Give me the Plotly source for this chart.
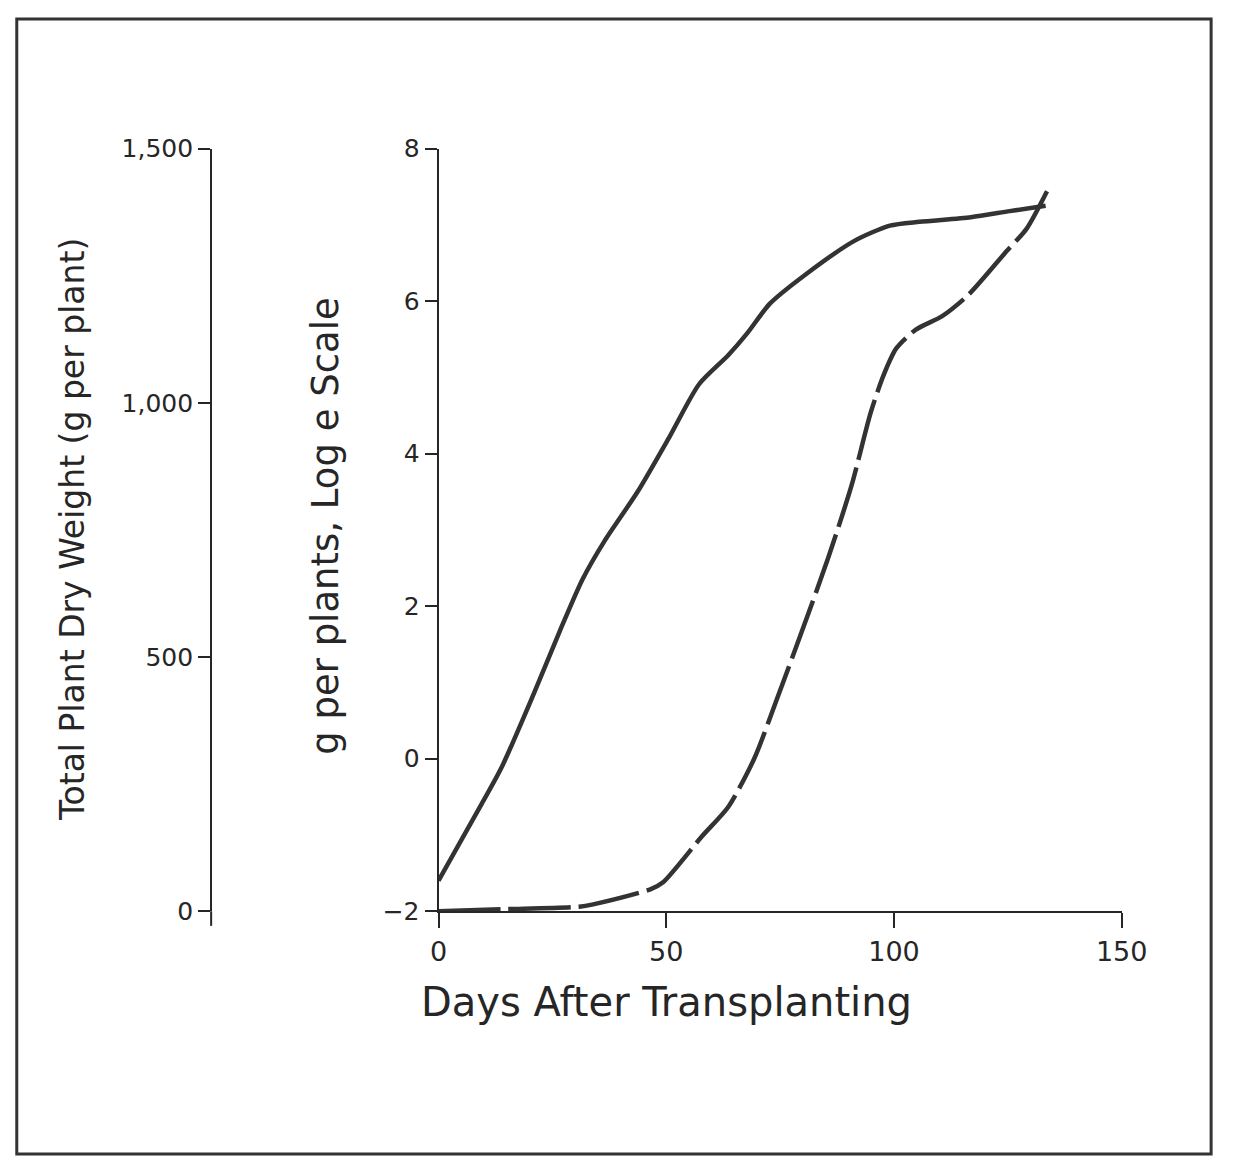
import plotly.graph_objects as go

# ---- data ----
solid_days = [0, 9.5, 13.8, 20.9, 26.6, 31.6, 36.5, 43.7, 50.8, 57.2, 63.6, 67.8,
              72.8, 80.6, 91.3, 99.1, 105.6, 116.9, 125.4, 133.3]
solid_log = [-1.6, -0.59, -0.12, 0.85, 1.67, 2.35, 2.86, 3.50, 4.23, 4.91, 5.29, 5.58,
             5.97, 6.35, 6.79, 6.99, 7.04, 7.10, 7.18, 7.25]

dash_days = [0, 14.5, 30.9, 33.7, 46.5, 49.3, 57.8, 63.6, 69.3, 74.2, 80.0, 85.6,
             90.7, 94.9, 97.7, 100.5, 104.8, 110.5, 116.3, 124.8, 129.1, 133.6]
dash_g = [0, 4, 9, 13, 43, 57, 147, 205, 300, 415, 556, 696,
          838, 981, 1054, 1107, 1144, 1170, 1212, 1299, 1342, 1416]

x_ticks = [0, 50, 100, 150]
log_ticks = [-2, 0, 2, 4, 6, 8]
g_ticks = [0, 500, 1000, 1500]
g_ticktext = ["0", "500", "1,000", "1,500"]

W, H = 1241, 1172
FONT = "DejaVu Sans"
INK = "#262626"

x_dom = [442 / W, 1145 / W]
y_dom = [1 - 920 / H, 1 - 138 / H]

fig = go.Figure()
fig.add_trace(go.Scatter(x=solid_days, y=solid_log, mode="lines", yaxis="y",
                         line=dict(color="#333333", width=4.5, shape="spline", smoothing=0.7),
                         showlegend=False))
fig.add_trace(go.Scatter(x=dash_days, y=dash_g, mode="lines", yaxis="y2",
                         line=dict(color="#333333", width=4.5, shape="spline", smoothing=0.7,
                                   dash="62px,8px"),
                         showlegend=False))

axis_common = dict(showline=True, linecolor=INK, linewidth=2, ticks="outside",
                   tickcolor=INK, tickwidth=2, showgrid=False, zeroline=False,
                   fixedrange=True)

fig.update_layout(
    width=W, height=H,
    margin=dict(l=0, r=0, t=0, b=0),
    paper_bgcolor="white", plot_bgcolor="rgba(0,0,0,0)",
    font=dict(family=FONT, color=INK),
    xaxis=dict(domain=x_dom, range=[0, 150], anchor="y", tickvals=x_ticks,
               ticklen=15, tickfont=dict(size=27, family=FONT, color=INK), **axis_common),
    yaxis=dict(domain=y_dom, range=[-2, 8], anchor="x", tickvals=log_ticks,
               ticklen=12, tickfont=dict(size=25, family=FONT, color=INK), **axis_common),
    yaxis2=dict(range=[0, 1500], overlaying="y", anchor="free", position=208 / W,
                side="left", tickvals=g_ticks, ticktext=g_ticktext, ticklen=12,
                tickfont=dict(size=25, family=FONT, color=INK), **axis_common),
    annotations=[
        dict(text="Days After Transplanting", xref="paper", yref="paper",
             x=422 / W, y=1 - 1013 / H, xanchor="left", yanchor="middle",
             showarrow=False, font=dict(size=40, family=FONT, color=INK)),
        dict(text="Total Plant Dry Weight (g per plant)", xref="paper", yref="paper",
             x=66 / W, y=1 - 529 / H, xanchor="center", yanchor="middle", textangle=-90,
             showarrow=False, font=dict(size=33, family=FONT, color=INK)),
        dict(text="g per plants, Log e Scale", xref="paper", yref="paper",
             x=325 / W, y=1 - 525 / H, xanchor="center", yanchor="middle", textangle=-90,
             showarrow=False, font=dict(size=37, family=FONT, color=INK)),
    ],
    shapes=[
        dict(type="rect", xref="paper", yref="paper", x0=8 / W, x1=1237 / W,
             y0=1 - 1169 / H, y1=1 - 5 / H, line=dict(color="#333333", width=3)),
        dict(type="line", xref="paper", yref="paper", x0=208 / W, x1=208 / W,
             y0=y_dom[0], y1=1 - 935 / H, line=dict(color=INK, width=2)),
    ],
)

fig.write_html("out.html")
